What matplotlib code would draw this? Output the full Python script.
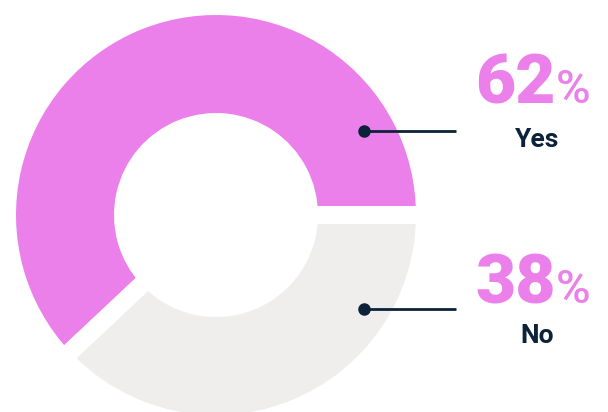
import matplotlib
matplotlib.use("Agg")
import matplotlib.pyplot as plt

# data
labels = ["Yes", "No"]
values = [62, 38]
colors = ["#EB80EB", "#EFEEEC"]

W, H = 608, 412
navy = "#0B2238"

fig = plt.figure(figsize=(W / 100, H / 100), dpi=100)
ax = fig.add_axes([0, 0, 1, 1])

# donut: white edges make the gaps between slices (18 px)
gap_pt = 18 * 72 / 100
cx, cy = 216, H - 215
r_out, r_in = 200, 102
ax.pie(values, colors=colors, startangle=0, counterclock=True,
       center=(cx, cy), radius=r_out + 9,
       wedgeprops=dict(width=(r_out + 9) - (r_in - 9), edgecolor="white",
                       linewidth=gap_pt, joinstyle="miter"))

ax.set_xlim(0, W)
ax.set_ylim(0, H)
ax.set_aspect("equal")
ax.axis("off")

# callouts
dot_y = [131, 309]
pct_base = [103, 303]
lab_base = [147, 343]
for lab, v, dy, pb, lb in zip(labels, values, dot_y, pct_base, lab_base):
    ax.plot([364, 456], [H - dy, H - dy], color=navy, lw=2, solid_capstyle="butt")
    ax.plot(364, H - dy, "o", color=navy, ms=8)
    ax.text(556, H - pb, f"{v}", ha="right", va="baseline", color=colors[0],
            fontsize=50, fontweight="heavy", family="Roboto")
    ax.text(556, H - pb, "%", ha="left", va="baseline", color=colors[0],
            fontsize=34, fontweight="medium", family="Roboto")
    ax.text(537, H - lb, lab, ha="center", va="baseline", color=navy,
            fontsize=19, fontweight="bold", family="Roboto")

fig.savefig("out.png", dpi=100, facecolor="white")
